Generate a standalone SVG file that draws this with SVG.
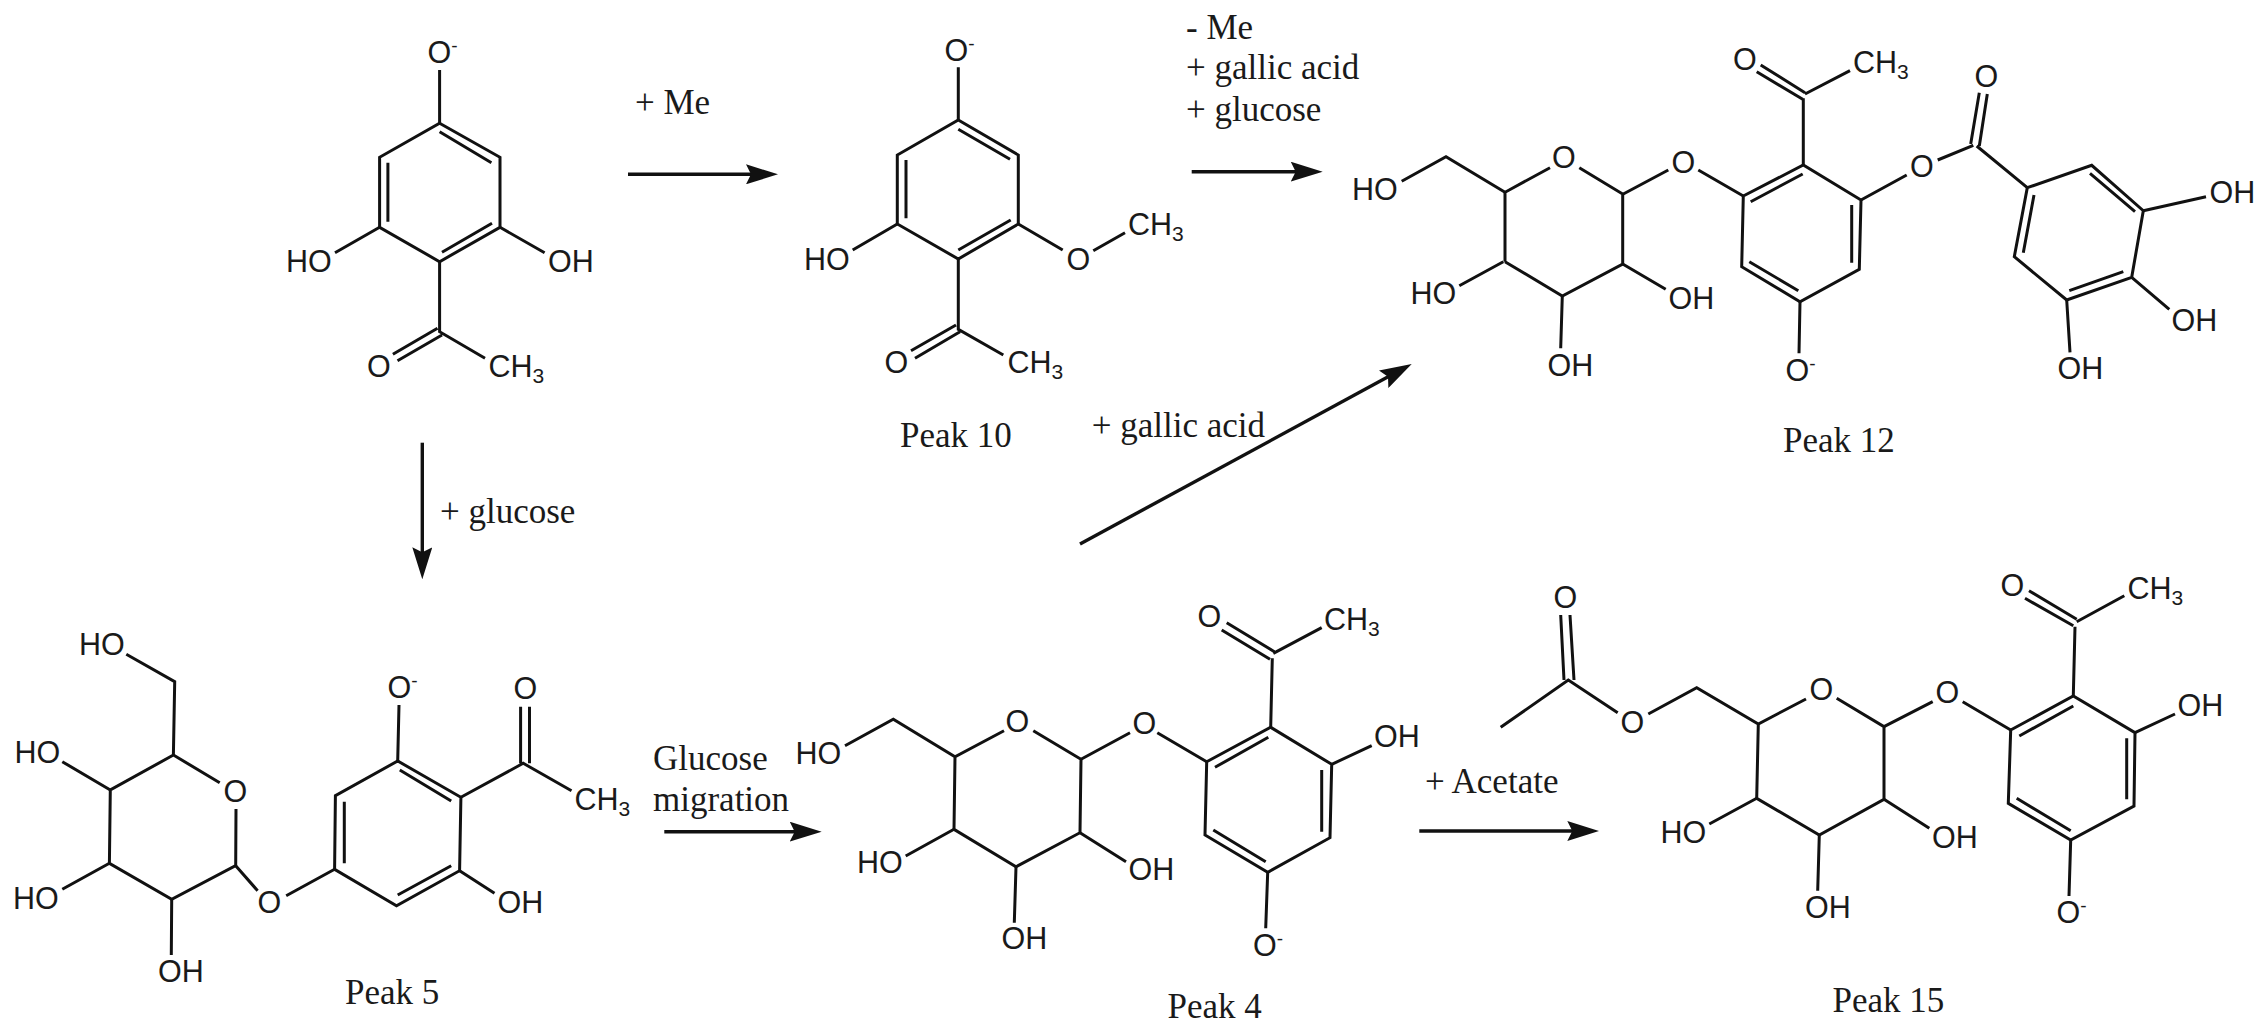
<svg xmlns="http://www.w3.org/2000/svg" width="2267" height="1033" viewBox="0 0 2267 1033">
<style>
.b{fill:none;stroke:#111;stroke-width:3;stroke-linejoin:miter;stroke-linecap:butt}
.a{font-family:"Liberation Sans",Arial,sans-serif;font-size:30.5px;fill:#1a1a1a}
.t{font-family:"Liberation Serif","Times New Roman",serif;font-size:35px;fill:#1a1a1a}
.sup{font-size:19px}
.sub{font-size:21px}
.c{fill:none;stroke:#111;stroke-width:3.4}
</style>
<defs>
<marker id="h" markerUnits="userSpaceOnUse" viewBox="0 0 32 20" markerWidth="32" markerHeight="20" refX="24" refY="10" orient="auto"><path d="M0,0 L32,10 L0,20 L5,10 Z" fill="#111"/></marker>
</defs>
<rect width="2267" height="1033" fill="#fff"/>

<g id="connectors">
<path class="c" marker-end="url(#h)" d="M628,174.3H770"/>
<path class="c" marker-end="url(#h)" d="M1191.7,171.7H1314.7"/>
<path class="c" marker-end="url(#h)" d="M1080,544L1404.7,367.8"/>
<path class="c" marker-end="url(#h)" d="M422.3,442.7V571.3"/>
<path class="c" marker-end="url(#h)" d="M664.3,831.7H813.7"/>
<path class="c" marker-end="url(#h)" d="M1419.3,831H1591.3"/>
</g>

<g id="labels">
<text class="t" x="635" y="114">+ Me</text>
<text class="t" x="1186" y="39.3">- Me</text>
<text class="t" x="1186" y="79.3">+ gallic acid</text>
<text class="t" x="1186" y="120.7">+ glucose</text>
<text class="t" x="1091.7" y="436.7">+ gallic acid</text>
<text class="t" x="440" y="522.7">+ glucose</text>
<text class="t" x="653" y="770">Glucose</text>
<text class="t" x="653" y="811">migration</text>
<text class="t" x="1425" y="793.3">+ Acetate</text>
</g>

<g id="precursor">
<path class="b" d="M439.6,123.3L500,157.3V227.3L439.6,261.7L379.6,227.3V157.3Z"/>
<path class="b" d="M439.6,70V123.3M379.6,227.3L335,252.7M500,227.3L544.6,252.7M439.6,261.7V331.7L485,358.3M437.5,328.3L392.9,354.3M442,335L397.5,360.7M439.6,131.7L491.4,162.7M387.9,162.7V221.7M442,252.3L492,223.3"/>
<text class="a" x="427.5" y="62.7">O<tspan class="sup" dy="-11">-</tspan></text>
<text class="a" x="286" y="272.3">HO</text>
<text class="a" x="548" y="272.3">OH</text>
<text class="a" x="367" y="377.3">O</text>
<text class="a" x="488.5" y="377.3">CH<tspan class="sub" dy="6">3</tspan></text>
</g>

<g id="peak10">
<path class="b" d="M958.3,120L1018.3,155V224L958.3,259L897.3,224V155Z"/>
<path class="b" d="M958.3,67.3V120M897.3,224L852.7,250M1018.3,224L1062.7,250M1093.3,250.7L1125,232.7M958.3,259V329.3L1003.3,355M956,325L911,350.7M960,331.7L915,358.3M958.3,129.3L1010,159.3M906,160V218.3M958.3,250L1010.7,220"/>
<text class="a" x="944.5" y="60.7">O<tspan class="sup" dy="-11">-</tspan></text>
<text class="a" x="804" y="270">HO</text>
<text class="a" x="1066.5" y="270">O</text>
<text class="a" x="1128" y="235">CH<tspan class="sub" dy="6">3</tspan></text>
<text class="a" x="884.5" y="373.3">O</text>
<text class="a" x="1007.5" y="373.3">CH<tspan class="sub" dy="6">3</tspan></text>
<text class="t" x="900" y="447.3">Peak 10</text>
</g>

<g id="peak12">
<path class="b" d="M1550,167.7L1505,192.3V261.7M1505,261.7L1562.3,296L1622.7,264V194L1579.3,167.7"/>
<path class="b" d="M1401.7,181.3L1446,156.7L1505,192.3M1503.3,261.7L1459.3,285.7M1622.7,264L1665.7,289.3M1562.3,296L1560.7,348.3M1623.3,194L1668.3,170M1698.3,170L1743.3,196"/>
<path class="b" d="M1743.3,196L1803.3,165L1861,200L1859.3,269.3L1800,301.7L1741.7,266.7Z"/>
<path class="b" d="M1750.7,201.7L1802.7,174M1749.3,261.7L1798.3,290.7M1851.7,205V262.7M1803.3,165V98.3M1805,92.7L1760.7,65M1802.7,99.3L1756.7,71.7M1805,94L1850,70.7M1800,301.7L1799,353.3M1861,200L1906.7,175M1937.7,160L1973.3,145.3M1970.7,144L1979.3,92.7M1979.3,146L1987.3,94M1976.7,146L2027.3,187.7"/>
<path class="b" d="M2027.3,187.7L2091.7,165.3L2143.3,210.7L2131.7,277.3L2066.7,300L2014.3,256.7Z"/>
<path class="b" d="M2090,173.3L2135,211.7M2123.3,271.7L2069.3,290.7M2034,195L2023.3,252.7M2143.3,210.7L2206,196.7M2131.7,277.3L2169.3,309.3M2066.7,300L2070,352.3"/>
<text class="a" x="1352" y="200">HO</text>
<text class="a" x="1552" y="168.3">O</text>
<text class="a" x="1410.5" y="304.3">HO</text>
<text class="a" x="1668.5" y="309.3">OH</text>
<text class="a" x="1547.5" y="375.7">OH</text>
<text class="a" x="1671.5" y="172.7">O</text>
<text class="a" x="1733" y="70">O</text>
<text class="a" x="1853" y="72.7">CH<tspan class="sub" dy="6">3</tspan></text>
<text class="a" x="1785.5" y="380.7">O<tspan class="sup" dy="-11">-</tspan></text>
<text class="a" x="1910" y="176.7">O</text>
<text class="a" x="1974.5" y="86.7">O</text>
<text class="a" x="2209.5" y="202.7">OH</text>
<text class="a" x="2171.5" y="331">OH</text>
<text class="a" x="2057.5" y="379">OH</text>
<text class="t" x="1783" y="452.3">Peak 12</text>
</g>

<g id="peak5">
<path class="b" d="M126.3,654.3L174.7,681.7L173.4,755L219.7,782.7M173.4,755L110.3,790L109.4,863.3L171.7,899.3L235.7,865.7L236,809"/>
<path class="b" d="M62.3,761.7L110.3,790M62.3,889.3L109.4,863.3M171.7,899.3L171.3,955M235.7,865.7L257.6,890.7M286.2,895.7L334.6,869.3"/>
<path class="b" d="M334.6,869.3L335.4,795.7L397.7,761L460.9,797.3L459.6,870.7L396.5,905.7Z"/>
<path class="b" d="M344.3,801.7V863.3M399.8,770L451.2,801M397.7,895L451.2,865.7M397.7,761L399,705M460.9,797.3L523.2,763.3L571.5,790.7M520.6,763.3V706.7M529.5,763.3V706.7M459.6,870.7L494.5,893.3"/>
<text class="a" x="79" y="655">HO</text>
<text class="a" x="14.5" y="763.3">HO</text>
<text class="a" x="13" y="909">HO</text>
<text class="a" x="158" y="982.3">OH</text>
<text class="a" x="223.5" y="801.7">O</text>
<text class="a" x="257.5" y="913.3">O</text>
<text class="a" x="387.5" y="698.3">O<tspan class="sup" dy="-11">-</tspan></text>
<text class="a" x="513.5" y="699.3">O</text>
<text class="a" x="574.5" y="810">CH<tspan class="sub" dy="6">3</tspan></text>
<text class="a" x="497.5" y="913.3">OH</text>
<text class="t" x="345" y="1004">Peak 5</text>
</g>

<g id="peak4">
<path class="b" d="M845,745.7L893.3,719.3L955,756.7L1004,730.7M955,756.7L954,829.3L1016,866.7L1080,832.7L1081,759.3L1033.3,730.7"/>
<path class="b" d="M905.7,856L954,829.3M1016,866.7L1014.3,922.7M1080,832.7L1126,861.7M1081,759.3L1130,732.7M1157.3,732.7L1206.7,761.7"/>
<path class="b" d="M1206.7,761.7L1270.7,727.3L1331.7,764.3L1330,837.7L1267.7,872.3L1205,835Z"/>
<path class="b" d="M1215,767.3L1268.3,737.3M1321.7,770V831.7M1213.3,830L1265.7,861.7M1270.7,727.3L1272.3,658.3M1274.3,651.7L1226.7,622.7M1270,659.3L1221.7,630M1273.3,653.3L1321.7,627.7M1331.7,764.3L1371.7,745.7M1267.7,872.3L1265.7,928.3"/>
<text class="a" x="795.5" y="764.3">HO</text>
<text class="a" x="1005.5" y="731.7">O</text>
<text class="a" x="857" y="873.3">HO</text>
<text class="a" x="1001.5" y="949.3">OH</text>
<text class="a" x="1128.5" y="880">OH</text>
<text class="a" x="1132.5" y="734">O</text>
<text class="a" x="1197.5" y="626.7">O</text>
<text class="a" x="1324" y="630">CH<tspan class="sub" dy="6">3</tspan></text>
<text class="a" x="1374" y="747.3">OH</text>
<text class="a" x="1253" y="955.7">O<tspan class="sup" dy="-11">-</tspan></text>
<text class="t" x="1167.5" y="1018.3">Peak 4</text>
</g>

<g id="peak15">
<path class="b" d="M1500.7,727.3L1568.3,680L1617.7,712.7M1560.7,615L1564,680M1570,615L1574,680M1648.3,714L1696.7,687.7L1758.3,724L1806,699M1758.3,724L1756.7,798.3L1819.3,835L1884,799.3V726.7L1836.7,698.3"/>
<path class="b" d="M1709.3,824L1756.7,798.3M1819.3,835L1817.7,890.7M1884,799.3L1929.3,828.3M1884,726.7L1932.7,701.7M1962.7,701.7L2010.7,730"/>
<path class="b" d="M2010.7,730L2073.3,696L2135,732.7L2134,806L2070.7,840L2008.3,803.3Z"/>
<path class="b" d="M2019.3,736L2073.3,706M2126.7,738.3V799.3M2016.7,798.3L2070.7,830.7M2073.3,696L2075,626.7M2076.7,619.3L2029,590.7M2073.3,625.7L2025,598.3M2076.7,621.7L2124.3,595.7M2135,732.7L2175,714M2070.7,840L2069,896"/>
<text class="a" x="1553.5" y="607.7">O</text>
<text class="a" x="1620.5" y="732.7">O</text>
<text class="a" x="1809.5" y="700">O</text>
<text class="a" x="1660.5" y="842.7">HO</text>
<text class="a" x="1805" y="918.3">OH</text>
<text class="a" x="1932" y="848.3">OH</text>
<text class="a" x="1935.5" y="702.7">O</text>
<text class="a" x="2000.5" y="596">O</text>
<text class="a" x="2127.5" y="599">CH<tspan class="sub" dy="6">3</tspan></text>
<text class="a" x="2177.5" y="716">OH</text>
<text class="a" x="2056.5" y="923.3">O<tspan class="sup" dy="-11">-</tspan></text>
<text class="t" x="1832.5" y="1012.3">Peak 15</text>
</g>
</svg>
